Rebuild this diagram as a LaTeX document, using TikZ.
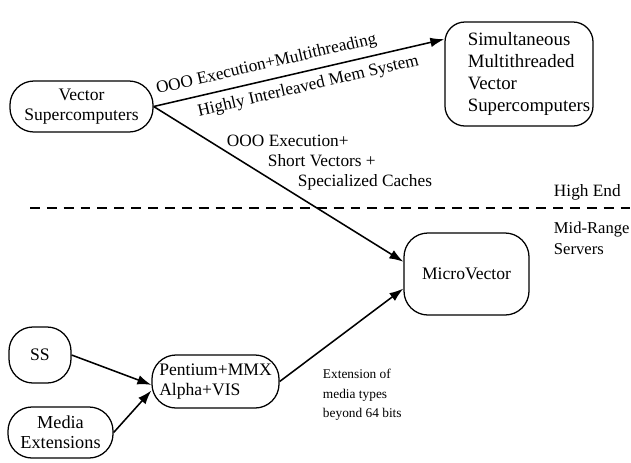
\documentclass[tikz,border=0pt]{standalone}
\usepackage{fontspec}
\setmainfont{Liberation Serif}
\usetikzlibrary{arrows.meta,positioning,calc}

\begin{document}
\begin{tikzpicture}[
  x=0.025cm, y=-0.025cm,
  box/.style={draw, line width=0.9pt, rounded corners=0.6cm, align=center, inner sep=1pt, font=\fontsize{12.5}{14.2}\selectfont},
  arr/.style={-{Latex[length=3.5mm,width=2.4mm]}, line width=1.1pt},
  lbl/.style={font=\fontsize{12.3}{14.2}\selectfont},
  small/.style={font=\fontsize{9.5}{14}\selectfont, align=left}
]
  \useasboundingbox (0,0) rectangle (631,462);
  \node[box, minimum width=3.575cm, minimum height=1.275cm] (vecsup) at (81.5,106.5) {Vector\\Supercomputers};
  \node[box, minimum width=3.7cm, minimum height=2.6cm, rounded corners=0.5cm, align=left, font=\fontsize{13.4}{15.8}\selectfont] (smv) at (519,74) {\hspace*{0.5cm}Simultaneous\\\hspace*{0.5cm}Multithreaded\\\hspace*{0.5cm}Vector\\\hspace*{0.5cm}Supercomputers};
  \node[box, minimum width=3.125cm, minimum height=2.05cm] (microvec) at (466.5,274) {MicroVector};
  \node[box, minimum width=1.55cm, minimum height=1.4cm] (ss) at (40,355) {SS};
  \node[box, minimum width=2.625cm, minimum height=1.275cm, font=\fontsize{13}{14.2}\selectfont] (mediaext) at (60.5,432.5) {Media\\Extensions};
  \node[box, minimum width=3.175cm, minimum height=1.325cm, align=left] (pentium) at (215.5,381.5) {Pentium+MMX\\Alpha+VIS};

  \draw[dashed, line width=0.8pt, dash pattern=on 7pt off 5pt] (30,208) -- (631,208);
  \node[lbl, anchor=west] (highend) at (549,192) {High End};
  \node[lbl, anchor=west, align=left, font=\fontsize{11.8}{14.8}\selectfont] (midrange) at (549,238) {Mid-Range\\Servers};

  \draw[arr] (vecsup.east) -- node[lbl, pos=0.4, sloped, above=1.5pt] {OOO Execution+Multithreading}
    node[lbl, pos=0.52, sloped, below=1.5pt] {Highly Interleaved Mem System} (smv.155);
  \draw[arr] (vecsup.east) -- (microvec.169);
  \node[lbl, anchor=west, align=left] (ooolbl) at (222,163) {OOO Execution+\\\hspace*{1.025cm}Short Vectors +\\\hspace*{1.775cm}Specialized Caches};
  \draw[arr] (ss.east) -- (pentium.183);
  \draw[arr] (mediaext.east) -- (pentium.188);
  \draw[arr] (pentium.east) -- (microvec.193);
  \node[small, anchor=west] (extlbl) at (318,395) {Extension of\\media types\\beyond 64 bits};
\end{tikzpicture}
\end{document}
